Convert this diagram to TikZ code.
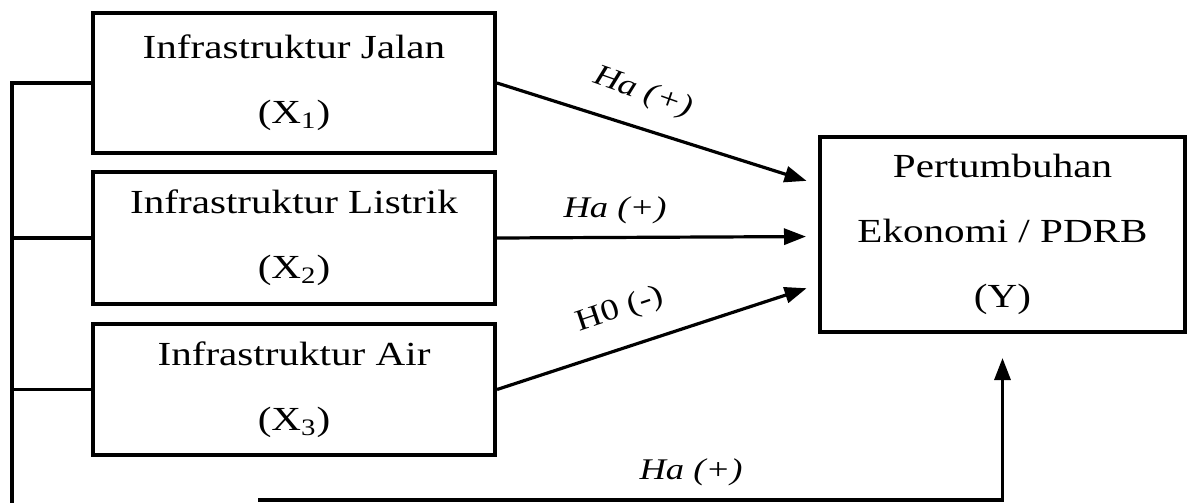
\documentclass[tikz,border=0pt]{standalone}
\usepackage{fontspec}
\setmainfont{Liberation Serif}[FakeStretch=1.22]
\usetikzlibrary{arrows.meta,calc}
\begin{document}
\begin{tikzpicture}[x=0.5pt,y=-0.5pt,
  varbox/.style={draw, line width=2pt, align=center, inner sep=0pt,
    font=\fontsize{16.85}{32.5}\selectfont},
  link/.style={line width=1.6pt},
  tip/.style={-{Triangle[length=11pt,width=8pt]}},
  effect/.style={link, tip, shorten >=6pt},
  hyp/.style={inner sep=0pt, font=\fontsize{15}{18}\selectfont\itshape},
]
\useasboundingbox (0,0) rectangle (1187,503);

% independent variables
\node[varbox, minimum width=201pt, minimum height=70pt] (x1) at (294,83)
  {Infrastruktur Jalan\\(X\textsubscript{1})};
\node[varbox, minimum width=201pt, minimum height=66pt] (x2) at (294,238)
  {Infrastruktur Listrik\\(X\textsubscript{2})};
\node[varbox, minimum width=201pt, minimum height=65.5pt] (x3) at (294,389.5)
  {Infrastruktur Air\\(X\textsubscript{3})};

% dependent variable
\node[varbox, minimum width=182.5pt, minimum height=97.5pt] (y) at (1002.5,234.5)
  {Pertumbuhan\\Ekonomi / PDRB\\(Y)};

% partial effects
\draw[effect] (x1.east) -- ($(y.west)+(0,-50)$);
\draw[effect] (x2.east) -- ($(y.west)+(0,2)$);
\draw[effect] (x3.east) -- ($(y.west)+(0,50)$);

% joint effect through the common bus
\coordinate (busend) at (12,503);
\coordinate (tail) at (258,500);
\draw[link] (x1.west) -| (busend);
\draw[link] (x2.west) -- (x2.west -| busend);
\draw[link] (x3.west) -- (x3.west -| busend);
\draw[link, tip, shorten >=12pt] (tail) -- (tail -| y.south) -- (y.south);

% hypothesis labels
\node[hyp, rotate=-19.5] (h1) at (643,93) {Ha (+)};
\node[hyp] (h2) at (615,210) {Ha (+)};
\node[hyp, font=\fontsize{15}{18}\selectfont, rotate=18.5] (h3) at (620,310) {H0 (-)};
\node[hyp] (h4) at (691,472) {Ha (+)};
\end{tikzpicture}
\end{document}
